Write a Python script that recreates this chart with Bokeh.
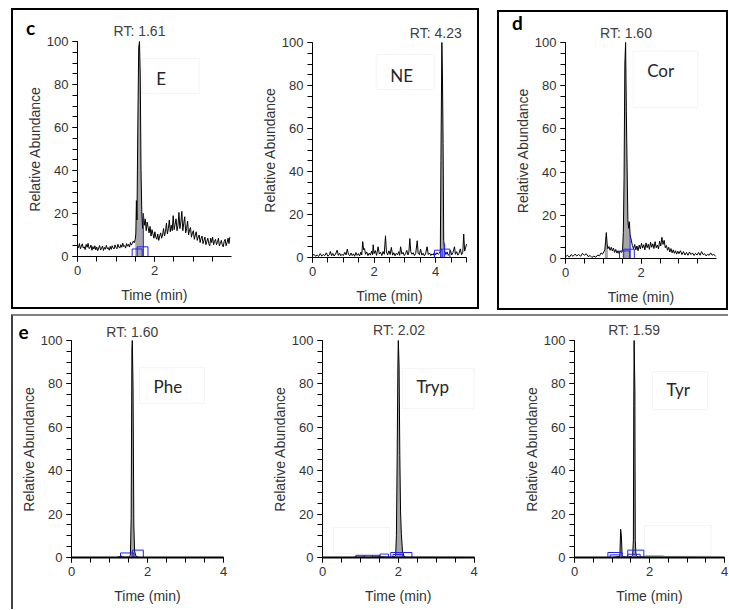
import math
from bokeh.plotting import figure
from bokeh.models import Range1d, SingleIntervalTicker, Label, BoxAnnotation
from bokeh.layouts import row, column
from bokeh.embed import file_html
from bokeh.resources import INLINE

# ---------------- data ----------------
# E (epinephrine)
e_time = [0.000, 0.025, 0.050, 0.075, 0.100, 0.125, 0.150, 0.175, 0.200, 0.225, 0.250, 0.275,
          0.300, 0.325, 0.350, 0.375, 0.400, 0.425, 0.450, 0.475, 0.500, 0.525, 0.550, 0.575,
          0.600, 0.625, 0.650, 0.675, 0.700, 0.725, 0.750, 0.775, 0.800, 0.825, 0.850, 0.875,
          0.900, 0.925, 0.950, 0.975, 1.000, 1.025, 1.050, 1.075, 1.100, 1.125, 1.150, 1.175,
          1.200, 1.225, 1.250, 1.275, 1.300, 1.325, 1.350, 1.375, 1.400, 1.425, 1.450, 1.475,
          1.500, 1.515, 1.530, 1.545, 1.565, 1.590, 1.610, 1.630, 1.650, 1.670, 1.690, 1.71,
          1.735, 1.760, 1.785, 1.810, 1.835, 1.860, 1.885, 1.910, 1.935, 1.960, 1.985, 2.010,
          2.035, 2.060, 2.085, 2.110, 2.135, 2.160, 2.185, 2.210, 2.235, 2.260, 2.285, 2.310,
          2.335, 2.360, 2.385, 2.410, 2.435, 2.460, 2.485, 2.510, 2.535, 2.560, 2.585, 2.610,
          2.635, 2.660, 2.685, 2.710, 2.735, 2.760, 2.785, 2.810, 2.835, 2.860, 2.885, 2.910,
          2.935, 2.960, 2.985, 3.010, 3.035, 3.060, 3.085, 3.110, 3.135, 3.160, 3.185, 3.210,
          3.235, 3.260, 3.285, 3.310, 3.335, 3.360, 3.385, 3.410, 3.435, 3.460, 3.485, 3.510,
          3.535, 3.560, 3.585, 3.610, 3.635, 3.660, 3.685, 3.710, 3.735, 3.760, 3.785, 3.810,
          3.835, 3.860, 3.885, 3.910, 3.935, 3.955]
e_abund = [5.2, 4.1, 6.0, 3.6, 4.8, 5.9, 3.9, 4.5, 3.2, 5.6, 4.3, 6.1,
           3.7, 4.0, 5.3, 2.9, 4.6, 3.5, 5.0, 3.1, 4.4, 2.7, 3.9, 5.1,
           3.0, 3.8, 4.9, 2.8, 4.2, 3.4, 5.2, 3.6, 4.1, 2.9, 4.7, 3.3,
           5.0, 4.0, 3.5, 5.4, 4.2, 3.6, 5.7, 4.4, 3.9, 5.5, 4.3, 6.2,
           4.6, 5.1, 3.9, 6.0, 4.8, 5.6, 4.4, 6.5, 5.3, 6.1, 7.2, 6.4,
           8.0, 10.5, 26.0, 17.0, 58.0, 97.0, 100.0, 84.0, 40.0, 21.0, 13.0, 20.0,
           14.5, 17.5, 12.0, 16.0, 13.5, 11.0, 14.0, 9.5, 12.5, 10.5, 8.5, 11.5,
           9.0, 8.0, 10.5, 7.5, 9.5, 11.0, 8.5, 10.0, 13.0, 9.5, 11.5, 15.5,
           10.5, 13.0, 17.0, 11.5, 14.5, 12.0, 19.0, 12.5, 15.0, 17.5, 12.0, 14.5,
           20.5, 13.0, 16.0, 21.0, 12.0, 15.5, 18.5, 11.0, 13.0, 16.5, 10.0, 12.5,
           13.5, 9.0, 11.0, 12.0, 8.0, 10.0, 11.5, 7.5, 9.0, 10.0, 6.5, 8.5,
           9.5, 6.0, 7.5, 9.0, 5.5, 7.0, 8.5, 6.0, 5.0, 8.5, 6.5, 9.0,
           5.5, 7.0, 8.0, 5.5, 6.5, 8.5, 5.0, 6.0, 7.5, 5.5, 4.5, 7.0,
           8.0, 5.0, 6.5, 8.5, 6.0, 9.0]
e_window = [(1.50, 1.71)]
e_marks = [(1.42, 1.68, 0.0, 3.5), (1.55, 1.83, 0.0, 4.5)]

# NE (norepinephrine)
ne_time = [0.00, 0.05, 0.10, 0.15, 0.20, 0.25, 0.30, 0.35, 0.40, 0.45, 0.50, 0.55, 0.58, 0.62, 0.66,
           0.70, 0.75, 0.80, 0.84, 0.88, 0.92, 0.96, 1.00, 1.05, 1.09, 1.13, 1.17, 1.21, 1.25, 1.29,
           1.33, 1.37, 1.41, 1.45, 1.49, 1.53, 1.57, 1.60, 1.63, 1.66, 1.69, 1.72, 1.76, 1.80, 1.84,
           1.88, 1.92, 1.95, 1.97, 2.00, 2.04, 2.08, 2.13, 2.17, 2.21, 2.25, 2.29, 2.33, 2.37, 2.40,
           2.44, 2.48, 2.52, 2.56, 2.60, 2.64, 2.68, 2.72, 2.76, 2.80, 2.83, 2.86, 2.90, 2.94, 2.98,
           3.02, 3.06, 3.10, 3.13, 3.16, 3.19, 3.23, 3.27, 3.31, 3.35, 3.40, 3.43, 3.47, 3.51, 3.55,
           3.59, 3.63, 3.67, 3.72, 3.76, 3.80, 3.84, 3.88, 3.92, 3.96, 4.00, 4.04, 4.08, 4.12, 4.15,
           4.17, 4.20, 4.22, 4.24, 4.26, 4.29, 4.33, 4.37, 4.41, 4.45, 4.48, 4.52, 4.56, 4.61, 4.64,
           4.68, 4.72, 4.76, 4.80, 4.84, 4.88, 4.91, 4.94, 4.97, 5.00]
ne_abund = [0.8, 1.5, 0.6, 1.2, 0.5, 1.8, 0.7, 1.4, 0.9, 2.2, 0.6, 1.3, 2.8, 0.8, 1.9,
            0.7, 1.6, 3.4, 1.0, 2.0, 0.8, 1.5, 0.9, 2.4, 1.2, 3.9, 1.4, 0.8, 2.1, 0.9,
            1.7, 0.6, 2.3, 1.0, 1.8, 0.7, 2.5, 1.2, 7.4, 3.6, 4.2, 1.5, 2.6, 0.9, 2.0,
            1.1, 3.0, 1.3, 5.9, 1.8, 3.2, 1.0, 5.0, 1.6, 2.4, 0.9, 2.8, 1.5, 10.1, 2.6,
            1.2, 3.1, 1.4, 4.7, 1.1, 2.2, 0.8, 1.9, 1.3, 2.7, 1.0, 5.0, 1.6, 2.4, 0.9,
            1.7, 3.3, 1.2, 2.5, 8.8, 2.8, 1.5, 2.2, 0.9, 1.8, 7.8, 2.0, 1.3, 3.9, 1.1,
            2.0, 0.8, 1.6, 5.0, 1.4, 2.1, 0.9, 1.7, 1.1, 2.4, 1.3, 2.2, 1.5, 2.0, 3.0,
            45.0, 100.0, 84.0, 53.0, 8.0, 3.0, 1.4, 2.6, 1.0, 1.8, 3.4, 1.2, 2.3, 5.0, 1.5,
            2.7, 1.1, 2.0, 4.0, 1.3, 2.5, 10.9, 3.0, 4.5, 6.2]
ne_window = [(4.15, 4.29)]
ne_marks = [(3.96, 4.21, 0.0, 3.4), (4.16, 4.46, 0.0, 3.9)]

# Cor (cortisol)
cor_time = [0.00, 0.05, 0.10, 0.15, 0.20, 0.25, 0.30, 0.35, 0.40, 0.45, 0.50, 0.55, 0.60, 0.65, 0.70,
            0.75, 0.80, 0.85, 0.90, 0.94, 0.98, 1.01, 1.04, 1.06, 1.08, 1.10, 1.12, 1.15, 1.18, 1.21,
            1.24, 1.27, 1.30, 1.33, 1.36, 1.39, 1.42, 1.45, 1.48, 1.51, 1.53, 1.55, 1.57, 1.59, 1.61,
            1.63, 1.65, 1.67, 1.69, 1.71, 1.74, 1.77, 1.80, 1.83, 1.86, 1.89, 1.92, 1.95, 1.98, 2.01,
            2.04, 2.07, 2.10, 2.13, 2.16, 2.19, 2.22, 2.25, 2.28, 2.31, 2.34, 2.37, 2.40, 2.43, 2.46,
            2.49, 2.52, 2.55, 2.58, 2.61, 2.64, 2.67, 2.70, 2.73, 2.76, 2.79, 2.82, 2.85, 2.88, 2.91,
            2.94, 2.97, 3.00, 3.04, 3.08, 3.12, 3.16, 3.20, 3.24, 3.28, 3.32, 3.36, 3.40, 3.44, 3.48,
            3.52, 3.56, 3.60, 3.64, 3.68, 3.72, 3.76, 3.80, 3.84, 3.88, 3.92, 3.97]
cor_abund = [0.8, 1.5, 0.6, 1.8, 1.0, 2.0, 1.2, 1.9, 1.0, 2.4, 1.5, 2.2, 0.9, 1.4, 0.5,
             1.1, 0.6, 1.6, 1.2, 2.6, 2.0, 3.0, 4.0, 8.0, 12.0, 7.0, 4.5, 5.5, 3.8, 5.2,
             3.5, 4.8, 2.8, 4.2, 2.5, 3.6, 2.2, 3.4, 2.8, 4.0, 12.0, 38.0, 90.0, 100.0, 68.0,
             42.0, 18.0, 14.0, 17.0, 11.0, 8.5, 6.0, 4.5, 6.5, 4.0, 5.8, 3.6, 6.2, 4.4, 7.0,
             4.8, 6.4, 4.0, 7.2, 5.0, 6.6, 4.2, 7.5, 5.2, 6.8, 4.6, 7.8, 5.0, 6.2, 4.4,
             8.0, 5.8, 9.8, 6.5, 8.4, 5.0, 6.0, 3.8, 5.2, 3.0, 4.6, 2.6, 4.0, 2.4, 3.6,
             2.0, 3.4, 2.2, 3.6, 1.8, 3.2, 1.6, 2.8, 1.5, 3.0, 1.8, 2.6, 1.4, 2.4, 1.6,
             2.8, 1.5, 3.2, 1.8, 2.2, 1.2, 2.0, 1.4, 2.6, 1.5, 2.0, 1.0]
cor_window = [(1.51, 1.71), (1.04, 1.12)]
cor_marks = [(1.43, 1.70, 0.0, 3.5), (1.54, 1.82, 0.0, 4.3)]

# Phe (phenylalanine)
phe_time = [0.00, 1.20, 1.26, 1.30, 1.34, 1.40, 1.50, 1.55, 1.57, 1.59, 1.60, 1.62, 1.64, 1.66,
            1.69, 1.74, 1.80, 4.00]
phe_abund = [0.0, 0.0, 0.4, 0.8, 0.3, 0.1, 0.2, 1.0, 18.0, 96.0, 100.0, 78.0, 15.0, 3.0,
             0.8, 0.2, 0.0, 0.0]
phe_window = [(1.55, 1.69)]
phe_marks = [(1.29, 1.64, 0.0, 2.1), (1.60, 1.89, 0.0, 3.4)]

# Tryp (tryptophan)
tryp_time = [0.00, 0.80, 0.90, 1.20, 1.50, 1.80, 1.90, 1.93, 1.95, 1.97, 1.99, 2.00, 2.02, 2.04,
             2.06, 2.08, 2.11, 2.15, 2.20, 4.00]
tryp_abund = [0.0, 0.0, 0.2, 0.1, 0.3, 0.1, 0.3, 1.0, 10.0, 46.0, 90.0, 100.0, 89.0, 47.0,
              21.0, 11.0, 3.0, 0.6, 0.1, 0.0]
tryp_window = [(1.93, 2.15)]
tryp_marks = [(0.88, 1.10, 0.0, 1.0), (1.10, 1.32, 0.0, 1.0), (1.32, 1.52, 0.0, 1.0),
              (1.52, 1.74, 0.0, 1.6), (1.80, 2.36, 0.0, 2.3), (1.86, 2.12, 0.0, 1.4)]

# Tyr (tyrosine)
tyr_time = [0.00, 1.00, 1.10, 1.18, 1.21, 1.23, 1.25, 1.27, 1.30, 1.45, 1.52, 1.55, 1.57, 1.58,
            1.59, 1.61, 1.62, 1.64, 1.70, 4.00]
tyr_abund = [0.0, 0.0, 0.2, 0.4, 1.0, 13.0, 10.0, 1.0, 0.3, 0.2, 0.5, 1.0, 8.0, 70.0,
             100.0, 77.0, 8.0, 1.0, 0.2, 0.0]
tyr_window = [(1.55, 1.64), (1.21, 1.28)]
tyr_marks = [(0.89, 1.27, 0.0, 2.3), (0.95, 1.20, 0.0, 1.2), (1.42, 1.85, 0.0, 3.4),
             (1.42, 1.75, 0.0, 1.5)]
tyr_green = [(1.89, 2.37, 0.8)]

rt_labels = {"E": 1.61, "NE": 4.23, "Cor": 1.60, "Phe": 1.60, "Tryp": 2.02, "Tyr": 1.59}

FONT = "Liberation Sans"


def make_panel(width, height, ax_left, ax_bottom, px_per_min, px_per_unit, xmax, thick_x=False):
    """Canvas = plot frame; axes are pinned at x=0 / y=0 inside it."""
    x0 = -ax_left / px_per_min
    x1 = (width - ax_left) / px_per_min
    y0 = -ax_bottom / px_per_unit
    y1 = (height - ax_bottom) / px_per_unit
    p = figure(width=width, height=height,
               x_range=Range1d(x0, x1), y_range=Range1d(y0, y1),
               toolbar_location=None, output_backend="svg",
               min_border=0, min_border_left=0, min_border_right=0,
               min_border_top=0, min_border_bottom=0)
    p.outline_line_color = None
    p.xgrid.visible = False
    p.ygrid.visible = False
    p.background_fill_color = "white"
    p.border_fill_color = "white"
    p.xaxis.ticker = SingleIntervalTicker(interval=2, num_minor_ticks=4)
    p.yaxis.ticker = SingleIntervalTicker(interval=20, num_minor_ticks=4)
    p.xaxis.fixed_location = 0
    p.yaxis.fixed_location = 0
    p.xaxis.bounds = (0, xmax)
    p.yaxis.bounds = (0, 100)
    for ax in (p.xaxis[0], p.yaxis[0]):
        ax.major_tick_in = 0
        ax.minor_tick_in = 0
        ax.major_tick_out = 5
        ax.minor_tick_out = 5
        ax.major_label_standoff = 4
        ax.major_label_text_font = FONT
        ax.major_label_text_font_size = "13px"
        ax.major_label_text_color = "#333333"
        ax.axis_line_color = "black"
        ax.major_tick_line_color = "black"
        ax.minor_tick_line_color = "black"
    if thick_x:
        p.xaxis.axis_line_width = 2
    # axis titles
    p.add_layout(Label(x=0, y=50, x_offset=-43, text="Relative Abundance", angle=math.pi / 2,
                       text_align="center", text_baseline="middle",
                       text_font=FONT, text_font_size="14px", text_color="#333333"))
    p.add_layout(Label(x=xmax / 2, y=0, y_offset=-38, text="Time (min)",
                       text_align="center", text_baseline="middle",
                       text_font=FONT, text_font_size="14px", text_color="#333333"))
    return p


def draw_trace(p, t, y, windows, marks, rt, rt_dx=0, rt_dy=10):
    for (a, b) in windows:
        idx = [i for i, tt in enumerate(t) if a <= tt <= b]
        p.varea(x=[t[i] for i in idx], y1=0, y2=[y[i] for i in idx],
                fill_color="#a6a6a6", fill_alpha=1.0)
    p.line(t, y, line_color="black", line_width=1)
    p.quad(left=[m[0] for m in marks], right=[m[1] for m in marks],
           bottom=[m[2] for m in marks], top=[m[3] for m in marks],
           fill_color=None, line_color="#2020ff", line_width=1)
    p.add_layout(Label(x=rt, y=100, x_offset=rt_dx, y_offset=rt_dy, text=f"RT: {rt:.2f}",
                       text_align="center", text_baseline="middle",
                       text_font=FONT, text_font_size="14px", text_color="#404040"))


def name_box(p, left, right, top, bottom, text=None, text_y=None):
    p.add_layout(BoxAnnotation(left=left, right=right, top=top, bottom=bottom,
                               fill_color="white" if text else None,
                               fill_alpha=1.0 if text else 0.0,
                               line_color="#d9d9d9", line_width=1))
    if text:
        p.add_layout(Label(x=left, y=text_y, x_offset=14, text=text,
                           text_align="left", text_baseline="middle",
                           text_font="Lato", text_font_size="17px", text_color="#262626"))


def panel_letter(p, letter, dx, dy):
    p.add_layout(Label(x=0, y=100, x_offset=dx, y_offset=dy, text=letter,
                       text_align="center", text_baseline="alphabetic",
                       text_font="Lato", text_font_style="bold",
                       text_font_size="19px", text_color="black"))


# ---------------- panels ----------------
pE = make_panel(237, 297, 64, 51, 38.5, 2.15, 3.99)
draw_trace(pE, e_time, e_abund, e_window, e_marks, rt_labels["E"], rt_dy=11)
pE.segment(x0=[e_window[0][1]], y0=[0], x1=[e_window[0][1]], y1=[e_abund[e_time.index(e_window[0][1])]],
           line_color="#2020ff", line_width=1)
name_box(pE, 1.68, 3.16, 92.1, 75.8, "E", 83.0)
panel_letter(pE, "c", -47, 14)

pNE = make_panel(227, 297, 62, 50, 30.8, 2.15, 5.0)
draw_trace(pNE, ne_time, ne_abund, ne_window, ne_marks, rt_labels["NE"], rt_dx=-7, rt_dy=10)
pNE.segment(x0=[ne_window[0][1]], y0=[0], x1=[ne_window[0][1]], y1=[6.5],
            line_color="#2020ff", line_width=1)
name_box(pNE, 2.07, 3.97, 94.4, 78.1, "NE", 84.7)

pCor = make_panel(227, 296, 66, 50, 37.8, 2.16, 3.99)
draw_trace(pCor, cor_time, cor_abund, cor_window, cor_marks, rt_labels["Cor"], rt_dy=10)
pCor.segment(x0=[cor_window[0][1]], y0=[0], x1=[cor_window[0][1]],
             y1=[cor_abund[cor_time.index(cor_window[0][1])]],
             line_color="#2020ff", line_width=1)
name_box(pCor, 1.79, 3.50, 96.0, 69.8, "Cor", 87.0)
panel_letter(pCor, "d", -48, 20)

pPhe = make_panel(237, 293, 58, 52, 38.0, 2.17, 4.0, thick_x=True)
draw_trace(pPhe, phe_time, phe_abund, phe_window, phe_marks, rt_labels["Phe"], rt_dy=9)
name_box(pPhe, 1.79, 3.50, 87.6, 71.0, "Phe", 78.8)
panel_letter(pPhe, "e", -48, 9)

pTryp = make_panel(250, 293, 72, 52, 37.9, 2.17, 4.0, thick_x=True)
draw_trace(pTryp, tryp_time, tryp_abund, tryp_window, tryp_marks, rt_labels["Tryp"], rt_dy=10.5)
name_box(pTryp, 2.11, 4.0, 87.1, 68.7, "Tryp", 78.6)
name_box(pTryp, 0.29, 1.77, 13.8, 1.8)

pTyr = make_panel(228, 293, 74, 52, 37.5, 2.17, 4.0, thick_x=True)
draw_trace(pTyr, tyr_time, tyr_abund, tyr_window, tyr_marks, rt_labels["Tyr"], rt_dy=10.5)
pTyr.segment(x0=[g[0] for g in tyr_green], y0=[g[2] for g in tyr_green],
             x1=[g[1] for g in tyr_green], y1=[g[2] for g in tyr_green],
             line_color="#40c040", line_width=1)
name_box(pTyr, 2.08, 3.55, 85.7, 68.2, "Tyr", 77.2)
name_box(pTyr, 1.87, 3.65, 14.7, 0.9)

# ---------------- layout with framed groups ----------------
rowC = row(pE, pNE, styles={"border": "2px solid #000000"}, margin=(8, 0, 0, 11))
rowD = row(pCor, styles={"border": "2px solid #000000"}, margin=(10, 0, 0, 18))
top = row(rowC, rowD)
rowE = row(pPhe, pTryp, pTyr,
           styles={"border-top": "2px solid #808080", "border-left": "2px solid #404040"},
           margin=(4, 0, 0, 11))
page = column(top, rowE)

open("out.html", "w").write(file_html(page, INLINE))
